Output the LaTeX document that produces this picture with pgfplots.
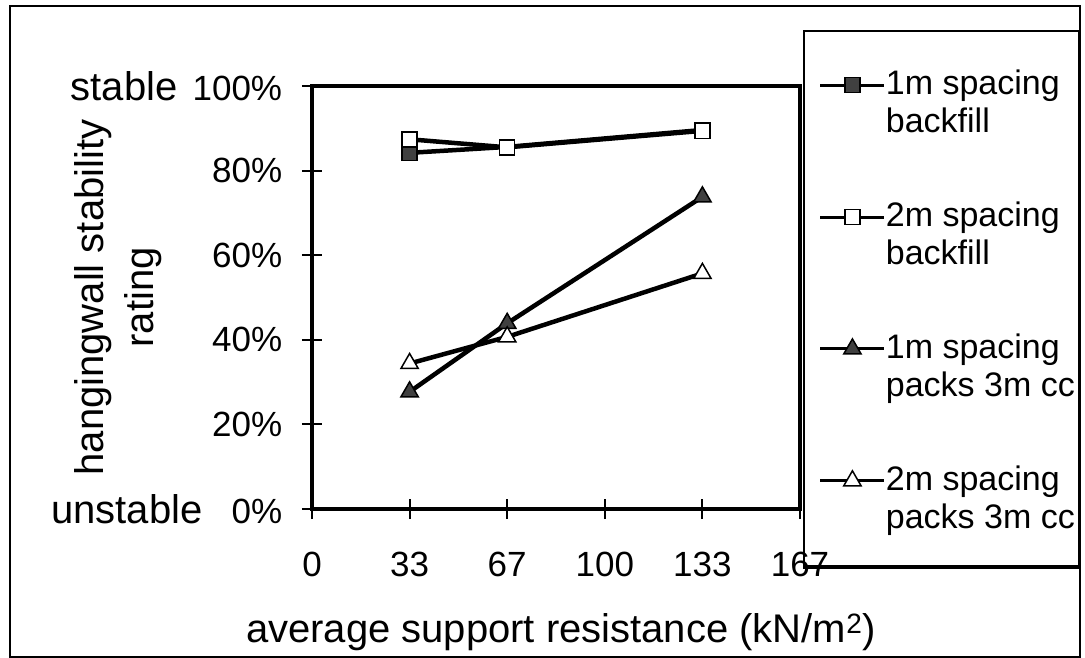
\documentclass[border=0pt]{standalone}
\usepackage{fontspec}
\setmainfont{Liberation Sans}
\usepackage{pgfplots}
\pgfplotsset{compat=1.18}
\newcommand{\tickfont}{\fontsize{35}{40}\selectfont}
\newcommand{\titlefont}{\fontsize{40}{50}\selectfont}
\newcommand{\legfont}{\fontsize{34}{38}\selectfont}
\newcommand{\secondline}[1]{\rlap{\smash{\raisebox{-38pt}{#1}}}}
\begin{document}
\tickfont
\begin{tikzpicture}[x=1pt,y=1pt]
\useasboundingbox (0,0) rectangle (1085,-658);
\draw[line width=2pt] (10,-6) rectangle (1080,-657);
\begin{axis}[
  at={(312pt,-509pt)}, anchor=south west,
  scale only axis, width=488pt, height=423pt,
  xmin=0, xmax=166.667, ymin=0, ymax=100,
  axis line style={line width=4.5pt},
  tick style={line width=2pt, black},
  major tick length=20pt, tick align=center,
  xtick pos=bottom, ytick pos=left,
  xtick={0,33.333,66.667,100,133.333,166.667},
  xticklabels={0,33,67,100,133,167},
  ytick={0,20,40,60,80,100},
  yticklabels={{\titlefont unstable}\hspace{29pt}0\%,20\%,40\%,60\%,80\%,{\titlefont stable}\hspace{15pt}100\%},
  tick label style={font=\tickfont},
  xticklabel style={yshift=-21pt},
  yticklabel style={xshift=-8pt},
  xlabel={average support resistance (kN/m\textsuperscript{2})},
  xlabel style={font=\titlefont, at={(axis description cs:0.51,-0.291)}, anchor=center},
  ylabel={hangingwall stability\\rating},
  ylabel style={font=\titlefont, align=center, at={(axis description cs:-0.398,0.5)}, anchor=center},
  legend style={at={(rel axis cs:1.0143,1.0378)}, anchor=north west,
    draw=none, fill=none,
    inner xsep=0pt, inner ysep=0pt, row sep=102pt, column sep=0pt,
    font=\legfont, nodes={inner sep=0pt}},
  legend cell align=left,
  legend image code/.code={
    \path (0pt,0pt);
    \draw[mark repeat=2,mark phase=2,#1, line width=3pt] plot coordinates {(11pt,0pt) (43pt,0pt) (75pt,0pt)};
  },
]
\addplot[black, line width=4.5pt, mark=square*, mark size=7.5pt,
  mark options={fill=black!75, draw=black, line width=1.5pt}]
  coordinates {(33.333,84.2) (66.667,85.6) (133.333,89.6)};
\addlegendentry{\secondline{backfill}1m spacing}
\addplot[black, line width=4.5pt, mark=square*, mark size=7.5pt,
  mark options={fill=white, draw=black, line width=1.5pt}]
  coordinates {(33.333,87.4) (66.667,85.5) (133.333,89.4)};
\addlegendentry{\secondline{backfill}2m spacing}
\addplot[black, line width=4.5pt, mark=triangle*, mark size=10pt,
  mark options={fill=black!75, draw=black, line width=1.5pt}]
  coordinates {(33.333,27.7) (66.667,43.9) (133.333,73.8)};
\addlegendentry{\secondline{packs 3m cc}1m spacing}
\addplot[black, line width=4.5pt, mark=triangle*, mark size=10pt,
  mark options={fill=white, draw=black, line width=1.5pt}]
  coordinates {(33.333,34.4) (66.667,40.7) (133.333,55.7)};
\addlegendentry{\secondline{packs 3m cc}2m spacing}
\end{axis}
\draw[line width=1.5pt] (804,-31) rectangle (1079,-568);
\draw[line width=4pt] (804,-567) -- (1079,-567);
\end{tikzpicture}
\end{document}
